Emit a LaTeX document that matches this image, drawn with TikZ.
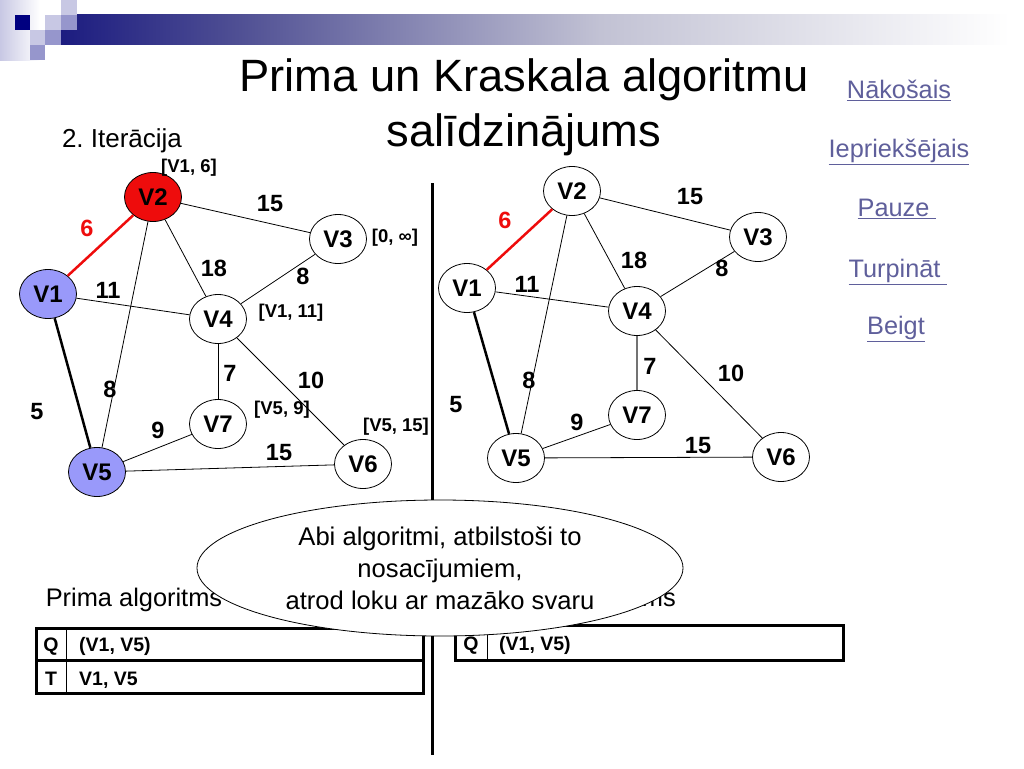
\documentclass[tikz,border=0pt]{standalone}
\usepackage{fontspec}
\setmainfont{Liberation Sans}
\usepackage{tikz}
\usetikzlibrary{shapes.geometric,positioning,backgrounds}

\definecolor{navy}{RGB}{0,0,128}
\definecolor{barA}{RGB}{28,28,128}
\definecolor{barB}{RGB}{80,80,148}
\definecolor{barC}{RGB}{194,194,212}
\definecolor{lavL}{RGB}{200,200,228}
\definecolor{lavM}{RGB}{150,150,204}
\definecolor{vfill}{RGB}{153,153,250}
\definecolor{vred}{RGB}{238,12,12}
\definecolor{linkc}{RGB}{95,95,155}

\begin{document}
\frenchspacing
\begin{tikzpicture}[x=1pt,y=-1pt,inner sep=0pt,
                    vert/.style={ellipse,draw,line width=0.8pt,minimum width=57pt,minimum height=49pt,
                                 font=\fontsize{24}{24}\selectfont\bfseries},
                    wt/.style={font=\fontsize{23.5}{24}\selectfont\bfseries},
                    tag/.style={font=\fontsize{18.5}{19}\selectfont\bfseries},
                    cell/.style={anchor=base,font=\fontsize{19.5}{20}\selectfont\bfseries},
                    link/.style={text=linkc,font=\fontsize{25.3}{26}\selectfont},
                    every edge/.append style={line width=0.8pt},
                    redge/.style={draw=vred,line width=2.5pt},
                    tedge/.style={line width=2.5pt}]
    \useasboundingbox (0,0) rectangle (1024,768);

    \begin{scope}[on background layer]
        \shade [left color=lavL, right color=white] (0,0) rectangle (40,60);
        \shade [left color=barA, right color=barB]  (61,15) rectangle (240,45);
        \shade [left color=barB, right color=barC]  (240,15) rectangle (600,45);
        \shade [left color=barC, right color=white] (600,15) rectangle (1010,45);
        \fill [navy] (15,15) rectangle (30,30);
        \fill [lavL] (45,15) rectangle (61,30);
        \fill [lavM] (61,15) rectangle (77,30);
        \fill [lavL] (61,0)  rectangle (77,15);
        \fill [lavL] (30,30) rectangle (45,45);
        \fill [lavM] (45,30) rectangle (61,45);
        \fill [lavM] (30,45) rectangle (45,60);
    \end{scope}

    \node at (524,107) (title) [align=center,font=\fontsize{45.3}{55}\selectfont]
        {Prima un Kraskala algoritmu\\sal\=\i dzin\=ajums};
    \node at (122,141) (iter) [font=\fontsize{26}{26}\selectfont] {2. Iterācija};

    \node at (899, 90) (next)  [link] {\underline{Nākošais}};
    \node at (899,152) (prev)  [link] {\underline{Iepriekšējais}};
    \node at (897,209) (pause) [link] {\underline{Pauze\ }};
    \node at (898,272) (cont)  [link] {\underline{Turpināt\ }};
    \node at (896,329) (stop)  [link] {\underline{Beigt}};

    \node at ( 48,294) (pV1) [vert,fill=vfill] {V1};
    \node at (153,197) (pV2) [vert,fill=vred]  {V2}
        edge [redge] (pV1);
    \node at (338,239) (pV3) [vert] {V3}
        edge (pV2);
    \node at (218,319) (pV4) [vert] {V4}
        edge (pV1) edge (pV2) edge (pV3);
    \node at ( 97,472) (pV5) [vert,fill=vfill] {V5}
        edge [tedge] (pV1) edge (pV2);
    \node at (363,464) (pV6) [vert] {V6}
        edge (pV4) edge (pV5);
    \node at (218,424) (pV7) [vert] {V7}
        edge (pV4) edge (pV5);

    \node at ( 87,228) (pw12) [wt,text=vred] {6};
    \node at (270,204) (pw23) [wt] {15};
    \node at (214,268) (pw24) [wt] {18};
    \node at (303,276) (pw34) [wt] {8};
    \node at (108,290) (pw14) [wt] {11};
    \node at (230,373) (pw47) [wt] {7};
    \node at (311,380) (pw46) [wt] {10};
    \node at (110,389) (pw25) [wt] {8};
    \node at ( 37,412) (pw15) [wt] {5};
    \node at (158,430) (pw57) [wt] {9};
    \node at (279,453) (pw56) [wt] {15};

    \node at (189,168) (tV2) [tag] {[V1, 6]};
    \node at (395,238) (tV3) [tag] {[0, ∞]};
    \node at (291,313) (tV4) [tag] {[V1, 11]};
    \node at (282,410) (tV7) [tag] {[V5, 9]};
    \node at (396,427) (tV6) [tag] {[V5, 15]};

    \node at (467,288) (kV1) [vert] {V1};
    \node at (572,191) (kV2) [vert] {V2}
        edge [redge] (kV1);
    \node at (758,237) (kV3) [vert] {V3}
        edge (kV2);
    \node at (637,311) (kV4) [vert] {V4}
        edge (kV1) edge (kV2) edge (kV3);
    \node at (516,458) (kV5) [vert] {V5}
        edge [tedge] (kV1) edge (kV2);
    \node at (781,457) (kV6) [vert] {V6}
        edge (kV4) edge (kV5);
    \node at (637,415) (kV7) [vert] {V7}
        edge [draw=black!55,line width=1.2pt] (kV4) edge (kV5);

    \node at (505,220) (kw12) [wt,text=vred] {6};
    \node at (690,197) (kw23) [wt] {15};
    \node at (634,260) (kw24) [wt] {18};
    \node at (722,268) (kw34) [wt] {8};
    \node at (527,284) (kw14) [wt] {11};
    \node at (650,366) (kw47) [wt] {7};
    \node at (731,373) (kw46) [wt] {10};
    \node at (529,380) (kw25) [wt] {8};
    \node at (456,405) (kw15) [wt] {5};
    \node at (577,422) (kw57) [wt] {9};
    \node at (698,446) (kw56) [wt] {15};

    \draw [line width=3pt] (432,183) -- (432,755);

    \node at (134,600) (prim) [font=\fontsize{25.4}{26}\selectfont] {Prima algoritms};
    \node at (676,600) (krus) [anchor=east,font=\fontsize{25.4}{26}\selectfont] {Kraskala algoritms};

    \draw [line width=3pt] (36,628) rectangle (423,693);
    \draw [line width=3pt] (36,660) -- (423,660);
    \draw [line width=0.8pt] (66,628) -- (66,693);
    \node at ( 51,651) (pQ)  [cell] {Q};
    \node at ( 79,651) (pQv) [cell,anchor=base west] {(V1, V5)};
    \node at ( 51,685) (pT)  [cell] {T};
    \node at ( 79,685) (pTv) [cell,anchor=base west] {V1, V5};

    \draw [line width=3pt] (455,625) rectangle (843,660);
    \draw [line width=0.8pt] (487,625) -- (487,660);
    \node at (471,650) (kQ)  [cell] {Q};
    \node at (499,650) (kQv) [cell,anchor=base west] {(V1, V5)};

    \node at (440,568) (note) [ellipse,draw,fill=white,line width=0.8pt,minimum width=486pt,minimum height=136pt,
                               align=center,font=\fontsize{25.6}{32}\selectfont]
        {Abi algoritmi, atbilstoši to\\nosacījumiem,\\atrod loku ar mazāko svaru};
\end{tikzpicture}
\end{document}
